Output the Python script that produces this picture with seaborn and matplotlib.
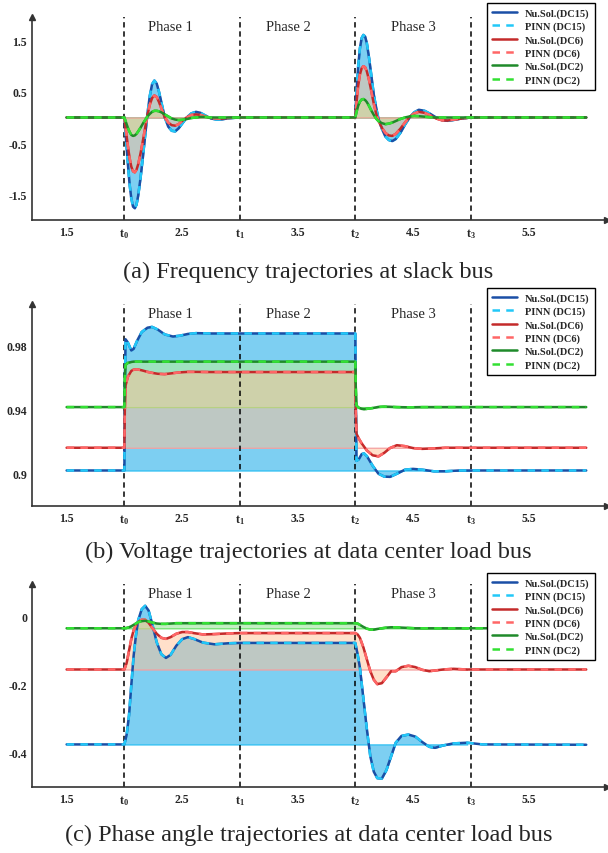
import numpy as np
import pandas as pd
import matplotlib
matplotlib.use("Agg")
import matplotlib.pyplot as plt
import matplotlib.colors as mcolors
import matplotlib.transforms as mtrans
import seaborn as sns

# ---------------- data ----------------
# event times and axis labels
t_events = [2.0, 3.0, 4.0, 5.0]
xtick_pos = [1.5, 2.0, 2.5, 3.0, 3.5, 4.0, 4.5, 5.0, 5.5, 6.0]
xtick_lab = ["1.5", r"$\mathbf{t_0}$", "2.5", r"$\mathbf{t_1}$", "3.5",
             r"$\mathbf{t_2}$", "4.5", r"$\mathbf{t_3}$", "5.5", ""]
phase_names = ["Phase 1", "Phase 2", "Phase 3"]
phase_x = [2.4, 3.42, 4.5]
series_names = ["DC15", "DC6", "DC2"]
captions = ["(a) Frequency trajectories at slack bus",
            "(b) Voltage trajectories at data center load bus",
            "(c) Phase angle trajectories at data center load bus"]

# (a) frequency deviation at slack bus
freq_t = [1.5, 2.0, 2.015, 2.03, 2.045, 2.06, 2.075, 2.09, 2.105, 2.12, 2.14, 2.16,
          2.18, 2.2, 2.22, 2.24, 2.26, 2.28, 2.3, 2.32, 2.35, 2.38, 2.41, 2.44, 2.47,
          2.5, 2.54, 2.58, 2.62, 2.66, 2.7, 2.75, 2.8, 2.85, 2.9, 3.0, 4.0, 4.012,
          4.025, 4.04, 4.055, 4.07, 4.085, 4.1, 4.12, 4.14, 4.16, 4.18, 4.2, 4.23,
          4.26, 4.29, 4.32, 4.35, 4.39, 4.43, 4.47, 4.51, 4.55, 4.6, 4.65, 4.7, 4.75,
          4.8, 4.86, 4.92, 5.0, 6.0]
freq_dc15 = [0, 0, -0.45, -0.9, -1.3, -1.58, -1.74, -1.77, -1.7, -1.52, -1.18, -0.78,
             -0.35, 0.07, 0.42, 0.65, 0.72, 0.66, 0.5, 0.3, 0.0, -0.18, -0.26, -0.27,
             -0.21, -0.12, 0.0, 0.08, 0.11, 0.09, 0.04, -0.02, -0.04, -0.035, -0.015,
             0, 0, 0.55, 1.0, 1.35, 1.55, 1.61, 1.58, 1.45, 1.15, 0.8, 0.45, 0.2,
             -0.02, -0.22, -0.37, -0.44, -0.46, -0.42, -0.3, -0.14, 0.0, 0.1, 0.15,
             0.13, 0.07, 0.0, -0.05, -0.065, -0.045, -0.02, 0, 0]
freq_dc6 = [0, 0, -0.28, -0.55, -0.79, -0.96, -1.05, -1.07, -1.02, -0.91, -0.7, -0.46,
            -0.2, 0.05, 0.25, 0.38, 0.43, 0.4, 0.3, 0.18, 0.0, -0.1, -0.15, -0.16,
            -0.13, -0.07, 0.0, 0.05, 0.06, 0.05, 0.02, -0.01, -0.02, -0.02, -0.01,
            0, 0, 0.33, 0.62, 0.84, 0.96, 1.0, 0.98, 0.9, 0.72, 0.5, 0.27, 0.08,
            -0.06, -0.2, -0.3, -0.35, -0.36, -0.32, -0.22, -0.1, 0.01, 0.08, 0.11,
            0.09, 0.04, -0.02, -0.055, -0.06, -0.04, -0.02, 0, 0]
freq_dc2 = [0, 0, -0.1, -0.2, -0.28, -0.34, -0.36, -0.35, -0.32, -0.27, -0.2, -0.12,
            -0.05, 0.02, 0.07, 0.11, 0.13, 0.13, 0.12, 0.1, 0.06, 0.02, -0.02, -0.04,
            -0.05, -0.045, -0.03, -0.01, 0.0, 0.01, 0.01, 0.0, 0, 0, 0,
            0, 0, 0.12, 0.23, 0.31, 0.35, 0.36, 0.34, 0.3, 0.22, 0.13, 0.05, -0.02,
            -0.07, -0.11, -0.13, -0.12, -0.1, -0.07, -0.03, 0.0, 0.02, 0.03, 0.025,
            0.015, 0.005, 0, 0, 0, 0, 0, 0, 0]

# (b) voltage at data center load bus
volt_t = [1.5, 2.0, 2.004, 2.01, 2.03, 2.06, 2.08, 2.11, 2.15, 2.2, 2.24, 2.29, 2.35,
          2.42, 2.48, 2.55, 2.62, 2.75, 3.0, 4.0, 4.004, 4.01, 4.03, 4.055, 4.075,
          4.1, 4.15, 4.2, 4.25, 4.3, 4.36, 4.43, 4.5, 4.58, 4.68, 4.78, 4.9, 5.0, 6.0]
volt_dc15 = [0.902, 0.902, 0.95, 0.984, 0.982, 0.977, 0.978, 0.983, 0.9885, 0.9912,
             0.9917, 0.99, 0.987, 0.9857, 0.9862, 0.9873, 0.9878, 0.9876, 0.9876,
             0.9876, 0.95, 0.908, 0.909, 0.9122, 0.9127, 0.911, 0.905, 0.9, 0.8982,
             0.898, 0.9, 0.9025, 0.903, 0.9025, 0.9015, 0.9015, 0.902, 0.902, 0.902]
volt_dc6 = [0.9162, 0.9162, 0.94, 0.955, 0.9605, 0.9642, 0.965, 0.9652, 0.9646,
            0.9636, 0.963, 0.9624, 0.9622, 0.9628, 0.9633, 0.9636, 0.9636, 0.9635,
            0.9635, 0.9635, 0.94, 0.925, 0.922, 0.919, 0.917, 0.9145, 0.9115, 0.9108,
            0.913, 0.916, 0.9178, 0.9172, 0.916, 0.9155, 0.9158, 0.9162, 0.9162,
            0.9162, 0.9162]
volt_dc2 = [0.9416, 0.9416, 0.96, 0.968, 0.9692, 0.9698, 0.97, 0.97, 0.97, 0.97,
            0.97, 0.97, 0.97, 0.97, 0.97, 0.97, 0.97, 0.97, 0.97, 0.97, 0.955,
            0.9425, 0.9412, 0.9405, 0.9403, 0.9405, 0.941, 0.9417, 0.9419, 0.9418,
            0.9416, 0.9415, 0.9415, 0.9416, 0.9416, 0.9416, 0.9416, 0.9416, 0.9416]

# (c) phase angle at data center load bus
ang_t = [1.5, 2.0, 2.02, 2.04, 2.06, 2.08, 2.1, 2.12, 2.15, 2.18, 2.21, 2.24, 2.28,
         2.32, 2.36, 2.4, 2.45, 2.5, 2.55, 2.6, 2.68, 2.78, 2.9, 3.0, 4.0, 4.02,
         4.04, 4.07, 4.1, 4.13, 4.16, 4.19, 4.23, 4.27, 4.31, 4.35, 4.4, 4.46, 4.52,
         4.58, 4.64, 4.69, 4.76, 4.85, 4.97, 5.1, 6.0]
ang_dc15 = [-0.375, -0.375, -0.345, -0.29, -0.2, -0.115, -0.055, -0.01, 0.022, 0.032,
            0.018, -0.02, -0.075, -0.11, -0.121, -0.112, -0.085, -0.066, -0.06,
            -0.065, -0.076, -0.081, -0.078, -0.077, -0.077, -0.11, -0.15, -0.24,
            -0.33, -0.41, -0.455, -0.474, -0.475, -0.45, -0.41, -0.37, -0.35, -0.346,
            -0.352, -0.368, -0.382, -0.385, -0.378, -0.372, -0.37, -0.375, -0.376]
ang_dc6 = [-0.155, -0.155, -0.135, -0.1, -0.065, -0.04, -0.025, -0.015, -0.009,
           -0.009, -0.018, -0.032, -0.05, -0.062, -0.065, -0.06, -0.05, -0.045,
           -0.045, -0.048, -0.052, -0.051, -0.049, -0.048, -0.048, -0.052, -0.062,
           -0.09, -0.125, -0.16, -0.185, -0.198, -0.195, -0.178, -0.16, -0.16,
           -0.148, -0.144, -0.148, -0.156, -0.16, -0.158, -0.155, -0.153, -0.155,
           -0.155, -0.155]
ang_dc2 = [-0.034, -0.034, -0.033, -0.031, -0.028, -0.024, -0.02, -0.016, -0.013,
           -0.012, -0.014, -0.017, -0.02, -0.021, -0.021, -0.02, -0.019, -0.019,
           -0.019, -0.019, -0.019, -0.019, -0.019, -0.019, -0.019, -0.02, -0.024,
           -0.03, -0.035, -0.038, -0.038, -0.036, -0.034, -0.032, -0.031, -0.031,
           -0.032, -0.033, -0.034, -0.034, -0.034, -0.034, -0.034, -0.034, -0.034,
           -0.034, -0.034]

panels = [
    dict(t=freq_t, ys=[freq_dc15, freq_dc6, freq_dc2], ylim=(-2.0, 1.96),
         yticks=[-1.5, -1.0, -0.5, 0.0, 0.5, 1.0, 1.5],
         ylabels=["-1.5", "", "-0.5", "", "0.5", "", "1.5"], px=(18, 221), leg_y=1.069),
    dict(t=volt_t, ys=[volt_dc15, volt_dc6, volt_dc2], ylim=(0.88, 1.006),
         yticks=[0.90, 0.92, 0.94, 0.96, 0.98],
         ylabels=["0.9", "", "0.94", "", "0.98"], px=(305, 506.7), leg_y=1.079),
    dict(t=ang_t, ys=[ang_dc15, ang_dc6, ang_dc2], ylim=(-0.5, 0.096),
         yticks=[-0.4, -0.3, -0.2, -0.1, 0.0],
         ylabels=["-0.4", "", "-0.2", "", "0"], px=(585, 788), leg_y=1.054),
]
caption_y = [272, 552, 835]

# ---------------- styling ----------------
nu_colors = ["#1a4fa6", "#c42a2a", "#1f8a2a"]
pinn_colors = ["#22c8f8", "#ff6666", "#33e033"]
fill_colors = [("#7dcff2", 1.0, "#2cbff2"), ("#ffc296", 0.5, "#f4a0a0"),
               ("#acEAAC", 0.72, "#70e070")]
fill_order = [0, 2, 1]
axis_col = "#333333"

sns.set_style("white")
plt.rcParams["font.family"] = ["Liberation Serif", "DejaVu Serif"]
plt.rcParams["mathtext.fontset"] = "custom"
plt.rcParams["mathtext.rm"] = "Liberation Serif"
plt.rcParams["mathtext.bf"] = "Liberation Serif:bold"
plt.rcParams["mathtext.it"] = "Liberation Serif:italic"

W, H = 608, 854
fig = plt.figure(figsize=(W / 100, H / 100), dpi=100)

for k, p in enumerate(panels):
    top, bot = p["px"]
    ax = fig.add_axes([32 / W, 1 - bot / H, (607 - 32) / W, (bot - top) / H])
    t = np.array(p["t"])
    mask = (t >= t_events[0]) & (t <= t_events[-1])

    # shaded deviation from the pre-disturbance value
    for i in fill_order:
        v = np.array(p["ys"][i])
        fc, fa, ec = fill_colors[i]
        ax.fill_between(t[mask], v[mask], v[0], facecolor=mcolors.to_rgba(fc, fa),
                        edgecolor=ec, lw=0.9, zorder=1)

    for te in t_events:
        ax.axvline(te, color="k", ls=(0, (3.5, 2.5)), lw=1.1, zorder=2)

    for i, name in enumerate(series_names):
        v = p["ys"][i]
        sns.lineplot(x=p["t"], y=v, ax=ax, color=nu_colors[i], lw=1.8,
                     estimator=None, sort=False, label=f"Nu.Sol.({name})", zorder=3)
        sns.lineplot(x=p["t"], y=v, ax=ax, color=pinn_colors[i], lw=1.8,
                     linestyle=(0, (3, 2.5)), estimator=None, sort=False,
                     label=f"PINN ({name})", zorder=3)

    ax.set_xlim(1.2, 6.18)
    ax.set_ylim(*p["ylim"])
    ax.set_xticks(xtick_pos)
    ax.set_xticklabels(xtick_lab, fontweight="bold", fontsize=8.5)
    ax.set_yticks(p["yticks"])
    ax.set_yticklabels(p["ylabels"], fontweight="bold", fontsize=8.5)
    ax.tick_params(axis="x", direction="in", length=4, width=1, color=axis_col, pad=4.5)
    ax.tick_params(axis="y", direction="in", length=4, width=1, color=axis_col, pad=3.5)
    ax.set_xlabel("")
    ax.set_ylabel("")
    sns.despine(ax=ax)
    for s in ["left", "bottom"]:
        ax.spines[s].set_color(axis_col)
        ax.spines[s].set_linewidth(1.2)
    ax.plot(1, 0, ">", color=axis_col, ms=5, transform=ax.transAxes, clip_on=False)
    ax.plot(0, 1, "^", color=axis_col, ms=5, transform=ax.transAxes, clip_on=False)

    trans = mtrans.blended_transform_factory(ax.transData, ax.transAxes)
    for px, name in zip(phase_x, phase_names):
        ax.text(px, 0.955, name, transform=trans, ha="center", va="center",
                fontsize=10.5)

    handles, labels = ax.get_legend_handles_labels()
    leg = ax.legend(handles, labels, loc="upper right", bbox_to_anchor=(0.979, p["leg_y"]),
                    borderaxespad=0, frameon=True, fancybox=False, edgecolor="k",
                    framealpha=1, prop={"weight": "bold", "size": 7.5},
                    handlelength=2.4, handletextpad=0.8, labelspacing=0.36,
                    borderpad=0.5)
    leg.get_frame().set_linewidth(1.0)
    leg.set_zorder(5)

    fig.text(0.507, 1 - caption_y[k] / H, captions[k], ha="center", va="center",
             fontsize=17.5)

fig.savefig("out.png", dpi=100)
